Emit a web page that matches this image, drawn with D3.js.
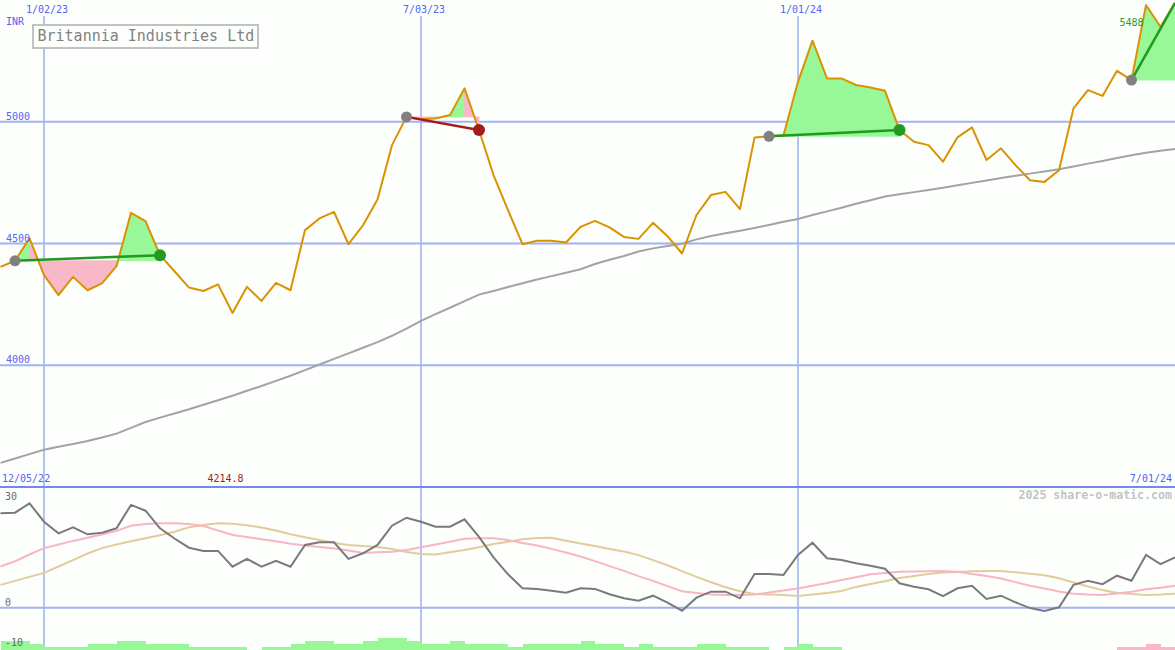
<!DOCTYPE html>
<html><head><meta charset="utf-8">
<script src="https://cdn.jsdelivr.net/npm/d3@7"></script>
<style>html,body{margin:0;padding:0;background:#fdfffd;overflow:hidden}svg{display:block}</style>
</head><body><svg id="c" width="1175" height="650"></svg>
<script>
// ---------- data ----------
const startDate = new Date(Date.UTC(2022, 11, 12));   // first weekly close
const priceValues = [4404,4429,4521,4370,4288,4363,4308,4336,4407,4626,4592,4452,4386,4319,4305,4332,4214.8,4322,4264,4338,
  4308,4555,4603,4630,4497,4575,4681,4904,5020,5010,5013,5028,5137,4966,4781,4637,4497,4511,4511,4504,
  4568,4593,4566,4527,4519,4585,4530,4459,4617,4699,4712,4641,4935,4940,4945,5164,5333,5178,5178,5151,
  5141,5127,4966,4918,4904,4836,4936,4977,4843,4891,4822,4760,4753,4801,5055,5130,5106,5209,5171,5479,5390,5488];
const maValues = [3599,3617,3635,3653,3665,3677,3689,3703,3719,3743,3767,3785,3802,3819,3838,3856,3875,3895,3915,3936,
  3957,3980,4003,4026,4049,4072,4095,4121,4150,4182,4210,4236,4263,4290,4305,4321,4337,4352,4366,4380,
  4394,4416,4433,4449,4467,4480,4490,4499,4517,4531,4542,4552,4564,4576,4589,4601,4617,4632,4647,4663,
  4678,4693,4702,4711,4720,4729,4739,4749,4759,4769,4778,4787,4796,4805,4816,4828,4839,4851,4862,4873,4881,4888];
const oscMain = [23.6,23.75,26.1,21.5,18.6,20.1,18.35,18.75,19.85,25.7,24.25,19.85,17.3,15,14.2,14.2,10.25,12.2,10.25,11.7,
  10.25,15.7,16.35,16.35,12.2,13.6,15.7,20.5,22.5,21.5,20.25,20.25,22.1,17.7,12.6,8.35,4.85,4.7,4.25,3.75,
  4.85,4.7,3.35,2.35,1.75,3,1.25,-0.75,2.5,4,4,2.35,8.4,8.4,8.2,13.2,16.25,12.35,11.9,11.1,
  10.5,9.75,6.1,5.25,4.6,2.9,4.85,5.5,2.2,3,1.35,-0.1,-0.8,0.1,5.7,6.75,5.9,8,6.75,13.2,10.9,12.6];
const oscFast = [10.3,11.6,13.3,14.9,15.8,16.7,17.5,18.3,19.2,20.5,20.95,21.1,21.1,20.9,20.4,19.3,18.2,17.7,17.1,16.6,
  16,15.55,15.2,14.8,14.3,13.7,13.85,14,14.45,15.1,15.8,16.5,17.25,17.35,17.35,16.9,16.2,15.55,14.7,13.8,
  12.8,11.65,10.4,9.2,7.9,6.7,5.4,4.1,3.7,3.3,3.2,3.2,3.3,3.8,4.3,4.8,5.5,6.2,6.9,7.6,
  8.35,8.7,9,9.05,9.1,9.15,8.97,8.4,7.9,7.3,6.4,5.5,4.8,4.05,3.5,3.3,3.2,3.55,4,4.6,5,5.5];
const oscSlow = [5.7,6.7,7.7,8.7,10.3,11.9,13.55,14.9,15.8,16.6,17.35,18.1,19,20.1,20.7,21.1,20.97,20.6,20.05,19.3,
  18.35,17.6,16.9,16.25,15.7,15.4,15.2,14.7,13.95,13.4,13.3,13.85,14.4,15.1,15.9,16.5,17.1,17.4,17.5,16.75,
  16.05,15.4,14.7,14.05,13.15,11.9,10.6,9.15,7.7,6.35,5.1,4.1,3.4,3.3,3.2,2.95,3.3,3.7,4.2,5.2,
  5.9,6.6,7.4,7.9,8.45,8.8,8.9,9.1,9.2,9.2,8.85,8.5,8.1,7.35,6.3,5.3,4.4,3.7,3.4,3.2,3.3,3.5];
// histogram strip (positive = green, negative = pink)
const histValues = [3,3,2,1,1,1,2,2,3,3,2,2,2,1,1,1,1,0,1,1,
  2,3,3,2,2,3,4,4,3,2,2,3,2,2,2,1,2,2,2,2,
  3,2,2,1,2,1,1,1,2,2,1,1,1,0,1,2,1,1,0,0,
  0,0,0,0,0,0,0,0,0,0,0,0,0,0,0,0,0,-1,-1,-2,-1,-1];
// trades (indices into the weekly series)
const tradeEntry = [1, 28, 53, 78];
const tradeExit  = [11, 33, 62, 81];
const tradeOpen  = [false, false, false, true];
const gridDates = [new Date(Date.UTC(2023,0,2)), new Date(Date.UTC(2023,6,3)), new Date(Date.UTC(2024,0,1))];
const priceTicks = [5000, 4500, 4000];
const oscTicks = [30, 0, -10];
const title = "Britannia Industries Ltd";
const currency = "INR";
const rangeStartLabel = "12/05/22";
const rangeEndLabel = "7/01/24";
const credit = "2025 share-o-matic.com";

// ---------- setup ----------
const dates = priceValues.map((_, i) => d3.utcDay.offset(startDate, 7 * i));
const W = 1175, H = 650;
const svg = d3.select("#c");
const FONT = "DejaVu Sans Mono, monospace";
const BLUE_TXT = "#5365ee", GRID = "#a4b2f2";
const GREEN_FILL = "#98f898", PINK_FILL = "#f8b8c8";

const x = d3.scaleUtc().domain([dates[0], dates[dates.length - 1]]).range([0.5, 1175]);
const step = x(dates[1]) - x(dates[0]);
const yP = d3.scaleLinear().domain([3500, 5500]).range([487, 0]);
const yO = d3.scaleLinear().domain([-10, 30]).range([647.7, 487.7]);
const yH = d3.scaleLinear().domain([0, 4]).range([650, 638]);
const fmt = d3.utcFormat("%-m/%d/%y");

svg.append("rect").attr("width", W).attr("height", H).attr("fill", "#fdfffd");

// gridlines
svg.selectAll(".hg").data(priceTicks).join("line")
  .attr("x1", 0).attr("x2", W).attr("y1", d => yP(d)).attr("y2", d => yP(d))
  .attr("stroke", GRID).attr("stroke-width", 2);
svg.append("line").attr("x1", 0).attr("x2", W).attr("y1", yO(0)).attr("y2", yO(0))
  .attr("stroke", GRID).attr("stroke-width", 2);
svg.selectAll(".vg").data(gridDates).join("line")
  .attr("x1", d => x(d)).attr("x2", d => x(d)).attr("y1", 16).attr("y2", H)
  .attr("stroke", GRID).attr("stroke-width", 1.6);

// histogram strip
svg.selectAll(".hb").data(histValues).join("rect")
  .attr("x", (d, i) => x(dates[i])).attr("width", step + 0.3)
  .attr("y", d => yH(Math.abs(d))).attr("height", d => yH(0) - yH(Math.abs(d)))
  .attr("fill", d => d >= 0 ? GREEN_FILL : PINK_FILL)
  .attr("shape-rendering", "crispEdges");

// trade fills
tradeEntry.forEach((e, t) => {
  const base = priceValues[e];
  for (let j = e; j < tradeExit[t]; j++) {
    const p0 = priceValues[j], p1 = priceValues[j + 1];
    const pts = [[x(dates[j]), yP(p0)], [x(dates[j + 1]), yP(p1)], [x(dates[j + 1]), yP(base)], [x(dates[j]), yP(base)]];
    const col = p1 >= base ? GREEN_FILL : PINK_FILL;
    svg.append("path").attr("d", "M" + pts.join("L") + "Z")
      .attr("fill", col).attr("stroke", col).attr("stroke-width", 0.8).attr("stroke-linejoin", "miter");
  }
});

// separator between panels
svg.append("line").attr("x1", 0).attr("x2", W).attr("y1", 487).attr("y2", 487)
  .attr("stroke", "#7687ef").attr("stroke-width", 2);

// lines
const lineP = d3.line().x((d, i) => x(dates[i])).y(d => yP(d));
const lineO = d3.line().x((d, i) => x(dates[i])).y(d => yO(d));
svg.append("path").attr("d", lineP(maValues)).attr("fill", "none").attr("stroke", "#a3a3a3").attr("stroke-width", 2);
svg.append("path").attr("d", lineO(oscSlow)).attr("fill", "none").attr("stroke", "#e3cc9c").attr("stroke-width", 2);
svg.append("path").attr("d", lineO(oscFast)).attr("fill", "none").attr("stroke", "#f9b4c8").attr("stroke-width", 2);
svg.append("path").attr("d", lineO(oscMain)).attr("fill", "none").attr("stroke", "#7a7a7a").attr("stroke-width", 2);
svg.append("path").attr("d", lineP(priceValues)).attr("fill", "none").attr("stroke", "#da9300").attr("stroke-width", 2).attr("stroke-linejoin", "round");

// trade lines & markers
tradeEntry.forEach((e, t) => {
  const xe = tradeExit[t];
  const win = priceValues[xe] >= priceValues[e];
  const col = win ? "#229a22" : "#a41b1b";
  svg.append("line").attr("x1", x(dates[e])).attr("y1", yP(priceValues[e]))
    .attr("x2", x(dates[xe])).attr("y2", yP(priceValues[xe]))
    .attr("stroke", col).attr("stroke-width", 2.5);
  svg.append("circle").attr("cx", x(dates[e])).attr("cy", yP(priceValues[e])).attr("r", 5.5).attr("fill", "#808080");
  if (!tradeOpen[t]) {
    svg.append("circle").attr("cx", x(dates[xe])).attr("cy", yP(priceValues[xe])).attr("r", 6).attr("fill", col);
  }
});

// labels
const txt = (s, xx, yy, o = {}) => svg.append("text").text(s).attr("x", xx).attr("y", yy)
  .attr("font-family", FONT).attr("font-size", o.size || 10).attr("fill", o.fill || BLUE_TXT)
  .attr("text-anchor", o.anchor || "start").attr("font-weight", o.weight || "normal");

gridDates.forEach(d => txt(fmt(d), x(d) + 3, 13, { anchor: "middle" }));
txt(currency, 6, 25);
priceTicks.forEach(v => txt(String(v), 6, yP(v) - 2));
oscTicks.forEach(v => txt(String(v), 5, Math.max(yO(v) - 2, 500), { fill: "#6a6a6a" }));
txt(rangeStartLabel, 2, 482);
txt(rangeEndLabel, 1172, 482, { anchor: "end" });
const minIdx = d3.minIndex(priceValues);
txt(d3.format(".1f")(priceValues[minIdx]), x(dates[minIdx]) - 7, 482, { anchor: "middle", fill: "#a01c1c" });
const last = priceValues.length - 1;
txt(String(priceValues[last]), x(dates[last - 3]) + 12, yP(priceValues[last]) + 23, { anchor: "end", fill: "#2a9a2a" });
txt(credit, 1172, 499, { anchor: "end", fill: "#c4c4c4", size: 11.6, weight: "bold" });

// title box
svg.append("rect").attr("x", 33).attr("y", 25).attr("width", 225).attr("height", 23)
  .attr("fill", "#fdfffd").attr("stroke", "#c2c2c2").attr("stroke-width", 2);
txt(title, 37.5, 41, { fill: "#828282", size: 15 });
</script></body></html>
